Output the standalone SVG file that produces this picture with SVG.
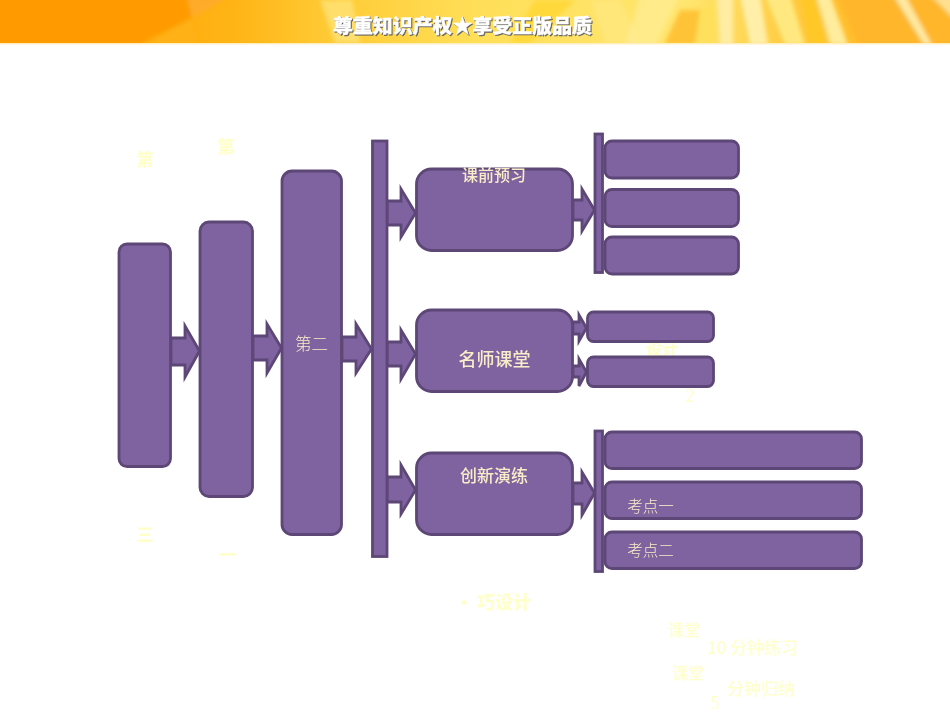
<svg xmlns="http://www.w3.org/2000/svg" width="950" height="713" viewBox="0 0 950 713">
<style>
text{font-family:"Noto Sans CJK SC","Liberation Sans",sans-serif;text-anchor:middle;dominant-baseline:central}
.box,.arrow{fill:#7f63a1;stroke:#5c4776;stroke-width:2.800}
.t{fill:#f8edc8;font-size:16px}
.b{font-weight:700}
.f{fill:#ffffcc;font-size:17px;font-weight:900}
.fn{fill:#ffffcc;font-size:16px;font-weight:500}
.d{font-family:"Liberation Serif",serif;font-size:18px}
</style>
<defs>
<linearGradient id="base" x1="0" y1="0" x2="1" y2="0">
<stop offset="0" stop-color="#ff9a00"/><stop offset=".25" stop-color="#ffb516"/><stop offset=".34" stop-color="#ffc933"/><stop offset=".5" stop-color="#ffdf58"/><stop offset=".72" stop-color="#ffe670"/><stop offset=".88" stop-color="#ffc02e"/><stop offset="1" stop-color="#ffb52a"/>
</linearGradient>
<filter id="soft" x="-5%" y="-20%" width="110%" height="140%"><feGaussianBlur stdDeviation="2"/></filter>
<clipPath id="bannerClip"><rect width="950" height="43"/></clipPath>
</defs>
<rect width="950" height="713" fill="#fff"/>
<g id="banner">
<g clip-path="url(#bannerClip)">
<rect width="950" height="43" fill="url(#base)"/>
<g filter="url(#soft)">
<polygon points="-10,-10 186,-10 192,18 125,53 -10,53" fill="#ff9b00"/>
<polygon points="186,-10 240,-10 192,18" fill="#ffab2a"/>
<polygon points="125,53 192,18 198,53" fill="#ffb112"/>
<polygon points="320,0 352,0 360,43 335,43" fill="#ffeb90" opacity=".6"/>
<polygon points="535,0 575,0 530,43 510,43" fill="#ffd83a"/>
<polygon points="590,0 620,0 640,43 605,43" fill="#ffe985" opacity=".6"/>
<polygon points="640,-5 680,-5 655,48 625,48" fill="#ffef9c" opacity=".6"/>
<polygon points="680,10 700,10 695,45 664,45" fill="#ffc338"/>
<polygon points="700,10 716,0 716,45 696,45" fill="#ffe05c"/>
<polygon points="717,-5 733,-5 733,45 720,45" fill="#fff0b0" opacity=".85"/>
<polygon points="740,-5 760,-5 768,45 750,45" fill="#fff3b8" opacity=".85"/>
<polygon points="765,-5 790,-5 805,45 785,45" fill="#ffe880"/>
<polygon points="800,-5 816,-5 826,45 810,45" fill="#ffc825"/>
<polygon points="816,-5 830,-5 848,45 830,45" fill="#fff3b0" opacity=".85"/>
<polygon points="837,-5 955,-5 955,48 860,48" fill="#ffb62a"/>
<polygon points="893,-5 905,-5 932,45 924,45" fill="#ffe9a0"/>
<polygon points="930,-5 955,-5 955,20" fill="#ffe090"/>
</g>
</g>
<rect y="43" width="950" height="1.500" fill="#ffeec0"/>
<g id="banner-title" font-size="19" font-weight="900">
<text x="463.500" y="25.500" fill="#666" stroke="#666" stroke-width=".6" textLength="259" lengthAdjust="spacingAndGlyphs">尊重知识产权★享受正版品质</text>
<text x="462.500" y="24" fill="#fff" stroke="#fff" stroke-width=".3" textLength="259" lengthAdjust="spacingAndGlyphs">尊重知识产权★享受正版品质</text>
</g>
</g>
<g id="faded-text">
<text class="f" x="145" y="158">第</text>
<text class="f" x="226" y="145">第</text>
<text class="f" x="145" y="533">三</text>
<text class="f" x="228" y="553">一</text>
<text class="f" x="662" y="348" style="font-size:16px">设计</text>
<text class="fn d" x="690" y="396">2</text>
<text class="f" x="493" y="601" style="font-size:18px">· 巧设计</text>
<text class="fn" x="684" y="629">课堂</text>
<text class="fn" x="752.500" y="646" style="font-size:17px">10 分钟练习</text>
<text class="fn" x="688" y="672">课堂</text>
<text class="fn" x="761" y="687" style="font-size:17px">分钟归纳</text>
<text class="fn d" x="715" y="703">5</text>
</g>
<g id="connectors">
<polygon class="arrow" points="171,338 185,338 185,326 199.500,351 185,377 185,365 171,365"/>
<polygon class="arrow" points="253,336 267,336 267,324 281.500,348 267,373 267,360 253,360"/>
<polygon class="arrow" points="342,337 356,337 356,324 371.500,349 356,373 356,361 342,361"/>
<polygon class="arrow" points="387,201 401,201 401,189 415.500,213 401,237 401,225 387,225"/>
<polygon class="arrow" points="387,342 401,342 401,330 415.500,354 401,379 401,366 387,366"/>
<polygon class="arrow" points="387,477 401,477 401,465 415.500,490 401,514 401,502 387,502"/>
<polygon class="arrow" points="573,200 582,200 582,189 594.500,210 582,231 582,220 573,220"/>
<polygon class="arrow" points="573,483 582,483 582,472 594.500,493 582,515 582,504 573,504"/>
<polygon class="arrow" points="573,322 579,322 579,315 586.500,328 579,341 579,334 573,334"/>
<polygon class="arrow" points="573,366 579,366 579,359 586.500,372 579,386 579,377 573,377"/>
</g>
<g id="node-1"><rect class="box" x="119" y="244" width="51.500" height="222.500" rx="8"/></g>
<g id="node-2"><rect class="box" x="200" y="222" width="52.500" height="274.500" rx="9"/></g>
<g id="node-3"><rect class="box" x="282" y="171" width="59.500" height="363.500" rx="10"/><text class="t" x="311.500" y="342.500" style="font-size:16.500px;font-weight:300">第二</text></g>
<g id="bar-main"><rect class="box" x="372.500" y="141" width="14.500" height="415.500"/></g>
<g id="node-preview"><rect class="box" x="416.500" y="169" width="156" height="81.500" rx="15"/><text class="t b" x="494" y="173.500" style="font-weight:500">课前预习</text></g>
<g id="node-teacher"><rect class="box" x="416.500" y="310" width="156" height="81.500" rx="15"/><text class="t" x="494.500" y="357.500" style="font-size:18px;font-weight:500">名师课堂</text></g>
<g id="node-practice"><rect class="box" x="416.500" y="453" width="156" height="81.500" rx="15"/><text class="t b" x="494" y="474" style="font-size:17px;font-weight:500">创新演练</text></g>
<g id="bar-top"><rect class="box" x="595" y="134" width="7.500" height="138.500"/></g>
<g id="node-top-1"><rect class="box" x="605" y="141" width="133.500" height="37" rx="7"/></g>
<g id="node-top-2"><rect class="box" x="605" y="189.500" width="133.500" height="37" rx="7"/></g>
<g id="node-top-3"><rect class="box" x="605" y="237" width="133.500" height="37" rx="7"/></g>
<g id="node-mid-1"><rect class="box" x="587.500" y="312" width="126" height="29.500" rx="6"/></g>
<g id="node-mid-2"><rect class="box" x="587.500" y="357" width="126" height="29.500" rx="6"/></g>
<g id="bar-bottom"><rect class="box" x="595" y="431" width="7.500" height="140.500"/></g>
<g id="node-bottom-1"><rect class="box" x="605" y="432" width="256.500" height="36.500" rx="7"/></g>
<g id="node-bottom-2"><rect class="box" x="605" y="482" width="256.500" height="36.500" rx="7"/><text class="t" x="650.500" y="504.500" style="font-size:15.500px;font-weight:300">考点一</text></g>
<g id="node-bottom-3"><rect class="box" x="605" y="532" width="256.500" height="36.500" rx="7"/><text class="t" x="650.500" y="548.500" style="font-size:15.500px;font-weight:300">考点二</text></g>
</svg>
